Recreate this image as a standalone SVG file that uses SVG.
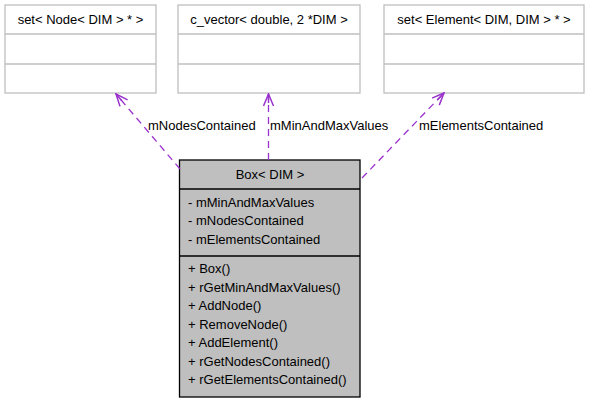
<svg xmlns="http://www.w3.org/2000/svg" width="589" height="403" viewBox="0 0 589 403">
<style>
text{font-family:"Liberation Sans",Arial,sans-serif;font-size:13px;fill:#000}
.cls{fill:#fff;stroke:#bfbfbf;stroke-width:1.3}
.main{fill:#bfbfbf;stroke:#000;stroke-width:1.3}
.sep{stroke:#000;stroke-width:1.3}
.gsep{stroke:#bfbfbf;stroke-width:1.3}
.edge{fill:none;stroke:#9a32cd;stroke-width:1.3;stroke-dasharray:7,5}
.mid{text-anchor:middle}
</style>
<defs>
<marker id="open" viewBox="-1 -6 14 12" refX="12" refY="0" markerWidth="14" markerHeight="12" markerUnits="userSpaceOnUse" orient="auto">
<path d="M0,-5 L12,0 L0,5" fill="none" stroke="#9a32cd" stroke-width="1.5"/>
<path d="M3,0 L12,0" stroke="#9a32cd" stroke-width="1.5"/>
</marker>
</defs>
<g id="node-setNode">
<rect class="cls" x="5" y="5" width="151" height="88"/>
<line class="gsep" x1="5" y1="34" x2="156" y2="34"/>
<line class="gsep" x1="5" y1="64" x2="156" y2="64"/>
<text class="mid" x="80.5" y="23.5">set&lt; Node&lt; DIM &gt; * &gt;</text>
</g>
<g id="node-cvector">
<rect class="cls" x="178" y="5" width="182" height="88"/>
<line class="gsep" x1="178" y1="34" x2="360" y2="34"/>
<line class="gsep" x1="178" y1="64" x2="360" y2="64"/>
<text class="mid" x="269" y="23.5">c_vector&lt; double, 2 *DIM &gt;</text>
</g>
<g id="node-setElement">
<rect class="cls" x="384" y="5" width="200" height="88"/>
<line class="gsep" x1="384" y1="34" x2="584" y2="34"/>
<line class="gsep" x1="384" y1="64" x2="584" y2="64"/>
<text class="mid" x="484" y="23.5">set&lt; Element&lt; DIM, DIM &gt; * &gt;</text>
</g>
<g id="node-box">
<rect class="main" x="179.5" y="160" width="180.5" height="237"/>
<line class="sep" x1="179.5" y1="189" x2="360" y2="189"/>
<line class="sep" x1="179.5" y1="256" x2="360" y2="256"/>
<text class="mid" x="270" y="178.5">Box&lt; DIM &gt;</text>
<text x="188" y="206.5">- mMinAndMaxValues</text>
<text x="188" y="225">- mNodesContained</text>
<text x="188" y="243.5">- mElementsContained</text>
<text x="188" y="273">+ Box()</text>
<text x="188" y="291.5">+ rGetMinAndMaxValues()</text>
<text x="188" y="310">+ AddNode()</text>
<text x="188" y="328.5">+ RemoveNode()</text>
<text x="188" y="347">+ AddElement()</text>
<text x="188" y="365.5">+ rGetNodesContained()</text>
<text x="188" y="384">+ rGetElementsContained()</text>
</g>
<g id="edges">
<path class="edge" d="M180,169 L116,94" marker-end="url(#open)"/>
<path class="edge" d="M268.5,160 L268.5,94" marker-end="url(#open)"/>
<path class="edge" d="M362,178 L444,93" marker-end="url(#open)"/>
<text x="148" y="129.5">mNodesContained</text>
<text x="270" y="129.5">mMinAndMaxValues</text>
<text x="419" y="129.5">mElementsContained</text>
</g>
</svg>
